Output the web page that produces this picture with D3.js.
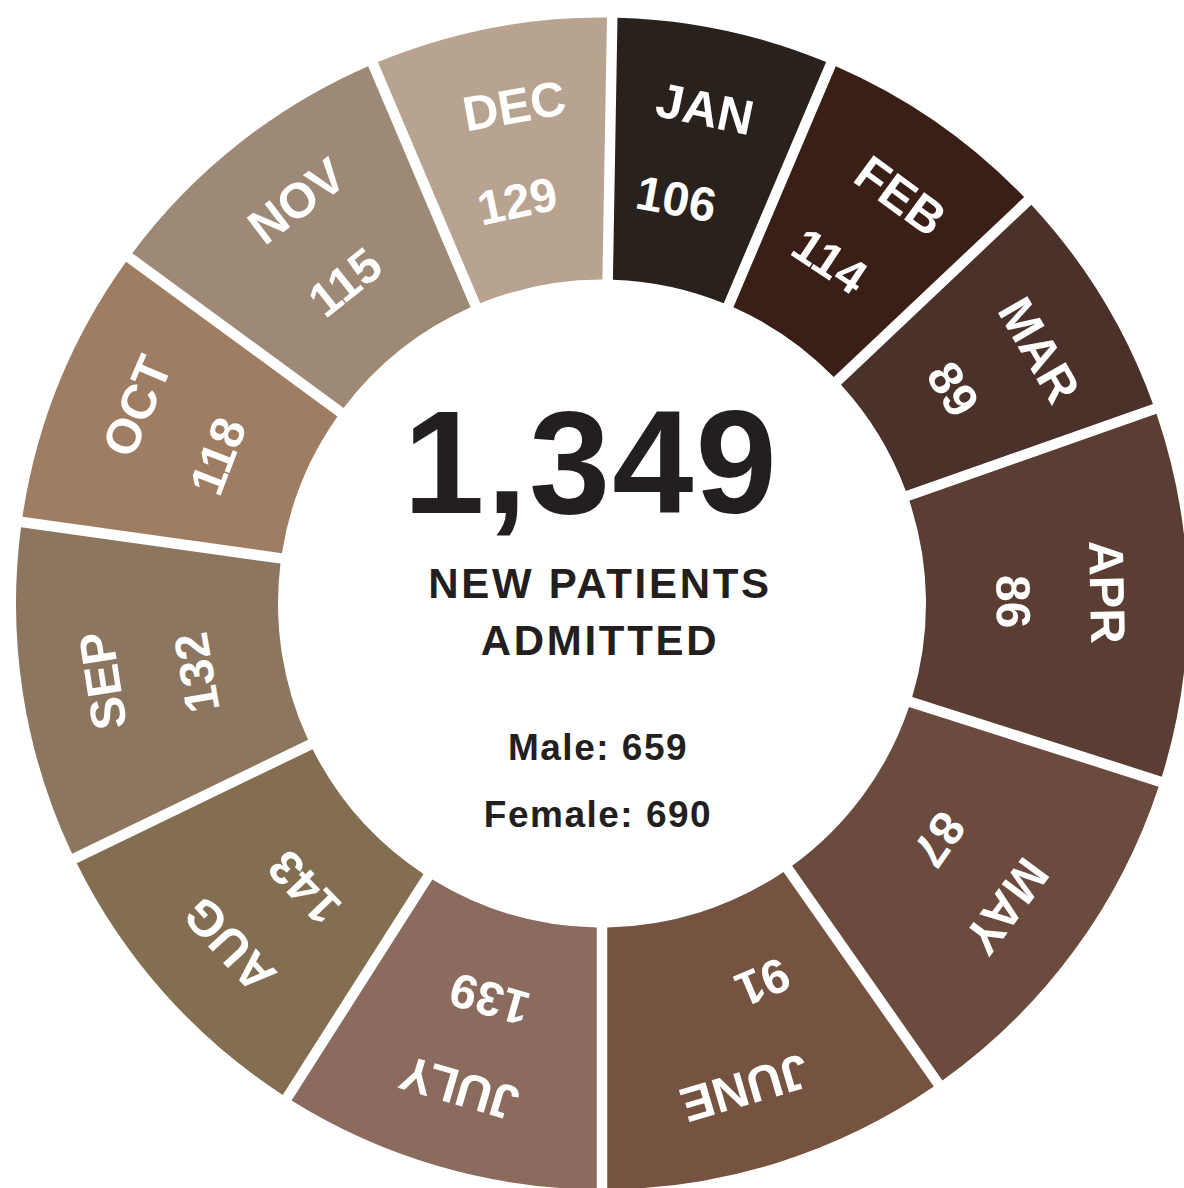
<!DOCTYPE html>
<html>
<head>
<meta charset="utf-8">
<script src="https://cdn.jsdelivr.net/npm/d3@7/dist/d3.min.js"></script>
<style>
  html, body { margin: 0; padding: 0; background: #ffffff; }
  svg { display: block; }
  text { font-family: "Liberation Sans", Arial, Helvetica, sans-serif; font-weight: bold; }
</style>
</head>
<body>
<svg id="chart" width="1184" height="1188"></svg>
<script>
// ---- data ----
const months = ["JAN", "FEB", "MAR", "APR", "MAY", "JUNE", "JULY", "AUG", "SEP", "OCT", "NOV", "DEC"];
const admitted = [106, 114, 89, 86, 87, 91, 139, 143, 132, 118, 115, 129];
// angular sweep (degrees) each month occupies in the ring, as drawn
const arcSweepDeg = [22, 23.6, 24, 37.1, 37.3, 35, 32.5, 31.7, 33.8, 28.2, 30.8, 24];
const monthColors = ["#29211c", "#3a1f17", "#4a312a", "#5a3d33", "#6a4b3e", "#765341",
                     "#8a6b5d", "#836e52", "#8c7660", "#9e7d62", "#9e8977", "#b8a391"];
const centerTitle = ["NEW PATIENTS", "ADMITTED"];
const genderLabels = ["Male", "Female"];
const genderCounts = [659, 690];

// ---- layout ----
const svg = d3.select("#chart");
const cx = 602, cy = 603.5;
const rInner = 324, rOuter = 586;
const rLabel = 506, rValue = 412;
const startDeg = 1;
// small angular nudges of the text inside each segment (degrees), as placed in the design
const labelNudgeDeg = [-0.25, 1.4, 1.3, -0.45, 0.45, 1.1, 0.15, -0.85, 0.1, 0.9, 1.2, 1.0];
const valueNudgeDeg = [-1.6, -1.2, 0, 0.6, -1.35, -5.5, -0.4, -2, -0.8, -1.1, -0.25, -0.9];

const g = svg.append("g").attr("transform", `translate(${cx},${cy})`);

const rad = Math.PI / 180;
const padRadius = 600;
const padAngle = 10.5 / padRadius;
const ends = d3.cumsum(arcSweepDeg);
const arcs = months.map((m, i) => ({
  data: m,
  index: i,
  startAngle: (startDeg + ends[i] - arcSweepDeg[i]) * rad,
  endAngle: (startDeg + ends[i]) * rad,
  padAngle: padAngle
}));

const arc = d3.arc()
  .innerRadius(rInner)
  .outerRadius(rOuter)
  .padRadius(padRadius);

g.selectAll("path.seg")
  .data(arcs)
  .join("path")
  .attr("class", "seg")
  .attr("d", arc)
  .attr("fill", (d, i) => monthColors[i]);

const midDeg = d => (d.startAngle + d.endAngle) / 2 / rad;

g.selectAll("text.mlabel")
  .data(arcs)
  .join("text")
  .attr("class", "mlabel")
  .attr("transform", (d, i) => `rotate(${midDeg(d) + labelNudgeDeg[i]})`)
  .attr("y", -rLabel)
  .attr("dy", "0.36em")
  .attr("text-anchor", "middle")
  .attr("fill", "#ffffff")
  .attr("font-size", 49)
  .text(d => d.data);

g.selectAll("text.mvalue")
  .data(arcs)
  .join("text")
  .attr("class", "mvalue")
  .attr("transform", (d, i) => `rotate(${midDeg(d) + valueNudgeDeg[i]})`)
  .attr("y", -rValue)
  .attr("dy", "0.36em")
  .attr("text-anchor", "middle")
  .attr("fill", "#ffffff")
  .attr("font-size", 48)
  .text((d, i) => admitted[i]);

// ---- centre text ----
const total = d3.sum(admitted);
const ink = "#231f20";

svg.append("text")
  .attr("x", 591).attr("y", 513)
  .attr("text-anchor", "middle")
  .attr("fill", ink)
  .attr("font-size", 146)
  .attr("letter-spacing", 2)
  .text(d3.format(",")(total));

svg.selectAll("text.title")
  .data(centerTitle)
  .join("text")
  .attr("class", "title")
  .attr("x", 600)
  .attr("y", (d, i) => 598 + i * 57)
  .attr("text-anchor", "middle")
  .attr("fill", ink)
  .attr("font-size", 42)
  .attr("letter-spacing", 2.7)
  .text(d => d);

svg.selectAll("text.gender")
  .data(genderLabels)
  .join("text")
  .attr("class", "gender")
  .attr("x", 598)
  .attr("y", (d, i) => 760 + i * 67)
  .attr("text-anchor", "middle")
  .attr("fill", ink)
  .attr("font-size", 37)
  .attr("letter-spacing", 1.5)
  .text((d, i) => `${d}: ${genderCounts[i]}`);
</script>
</body>
</html>
